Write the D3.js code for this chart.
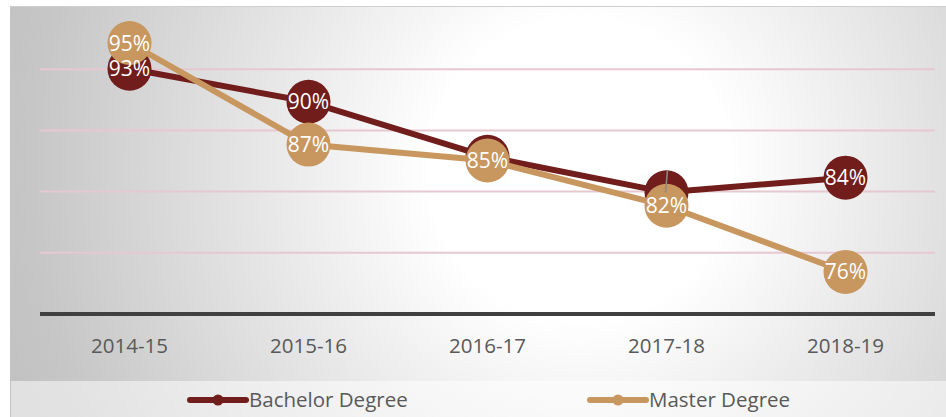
<!DOCTYPE html>
<html>
<head>
<meta charset="utf-8">
<script src="https://cdn.jsdelivr.net/npm/d3@7"></script>
<style>
html,body{margin:0;padding:0;background:#fff;}
svg{display:block;}
</style>
</head>
<body>
<div id="chart"></div>
<script>
// ---- data ----
const categories = ["2014-15", "2015-16", "2016-17", "2017-18", "2018-19"];
const bachelor = [92.9, 90.2, 85.7, 82.8, 84.0];
const master = [95.0, 86.7, 85.4, 81.7, 76.3];
const seriesNames = ["Bachelor Degree", "Master Degree"];
const seriesColors = ["#711d1b", "#c8975f"];

const W = 946, H = 417;
const svg = d3.select("#chart").append("svg").attr("width", W).attr("height", H);

// background
const defs = svg.append("defs");
const rg = defs.append("radialGradient").attr("id", "bg")
  .attr("gradientUnits", "userSpaceOnUse")
  .attr("cx", 580).attr("cy", 170).attr("r", 600);
rg.append("stop").attr("offset", 0).attr("stop-color", "#ffffff");
rg.append("stop").attr("offset", 0.25).attr("stop-color", "#ffffff");
rg.append("stop").attr("offset", 0.92).attr("stop-color", "#c6c6c6");
rg.append("stop").attr("offset", 1).attr("stop-color", "#c2c2c2");

svg.append("rect").attr("x", 10).attr("y", 6).attr("width", W - 10).attr("height", H - 6)
  .attr("fill", "url(#bg)");
svg.append("line").attr("x1", 10).attr("x2", W).attr("y1", 6.5).attr("y2", 6.5)
  .attr("stroke", "#cfcfcf").attr("stroke-width", 1);
svg.append("line").attr("x1", 10.5).attr("x2", 10.5).attr("y1", 6).attr("y2", H)
  .attr("stroke", "#c4c4c4").attr("stroke-width", 1);
// legend band
svg.append("rect").attr("x", 11).attr("y", 381).attr("width", W - 11).attr("height", H - 381)
  .attr("fill", "#ffffff").attr("opacity", 0.5);

// scales
const x = d3.scaleBand().domain(categories).range([40, 935]);
const cx = c => x(c) + x.bandwidth() / 2;
const yMin = 72.86, yStep = 5;
const y = d3.scaleLinear().domain([yMin, yMin + 5 * yStep]).range([314, 8]);

// gridlines
const grid = d3.range(1, 5).map(k => yMin + k * yStep);
svg.append("g").selectAll("line").data(grid).join("line")
  .attr("x1", 40).attr("x2", 935)
  .attr("y1", d => y(d)).attr("y2", d => y(d))
  .attr("stroke", "#e6c8d0").attr("stroke-width", 2);

// x axis
const xAxis = svg.append("g").attr("transform", "translate(0,314)")
  .call(d3.axisBottom(x).tickSize(0).tickPadding(24));
xAxis.select(".domain").attr("stroke", "#404040").attr("stroke-width", 4)
  .attr("d", "M40,0H935");
xAxis.selectAll("text").attr("fill", "#595959")
  .style("font-family", "'Open Sans', sans-serif").style("font-size", "20.5px");

// series
const series = [bachelor, master];
const line = d3.line().x((d, i) => cx(categories[i])).y(d => y(d));
series.forEach((vals, si) => {
  const g = svg.append("g");
  g.append("path").datum(vals).attr("d", line)
    .attr("fill", "none").attr("stroke", seriesColors[si]).attr("stroke-width", 6)
    .attr("stroke-linejoin", "round");
  g.selectAll("circle").data(vals).join("circle")
    .attr("cx", (d, i) => cx(categories[i])).attr("cy", d => y(d))
    .attr("r", 22).attr("fill", seriesColors[si]);
});

// leader line for the hidden 2017-18 bachelor label
svg.append("line")
  .attr("x1", cx(categories[3]) + 1).attr("x2", cx(categories[3]) - 1)
  .attr("y1", y(bachelor[3]) - 22).attr("y2", y(bachelor[3]))
  .attr("stroke", "#8a8a8a").attr("stroke-width", 1.5);

// labels (bachelor 2016-17 and 2017-18 labels are white-on-white / hidden in the source)
const fmt = v => Math.round(v) + "%";
const hidden = {0: [2, 3], 1: []};
series.forEach((vals, si) => {
  svg.append("g").selectAll("text")
    .data(vals.map((v, i) => ({v, i})).filter(d => !hidden[si].includes(d.i)))
    .join("text")
    .attr("x", d => cx(categories[d.i]))
    .attr("y", d => y(d.v))
    .attr("dy", "0.36em")
    .attr("text-anchor", "middle")
    .attr("fill", "#ffffff")
    .style("font-family", "'Open Sans', sans-serif").style("font-size", "21px")
    .text(d => fmt(d.v));
});

// legend
const legendItems = [{x: 190, name: seriesNames[0], color: seriesColors[0]},
                     {x: 590, name: seriesNames[1], color: seriesColors[1]}];
const lg = svg.append("g").selectAll("g").data(legendItems).join("g")
  .attr("transform", d => `translate(${d.x},400)`);
lg.append("line").attr("x1", 0).attr("x2", 56).attr("y1", 0).attr("y2", 0)
  .attr("stroke", d => d.color).attr("stroke-width", 6).attr("stroke-linecap", "round");
lg.append("circle").attr("cx", 28).attr("cy", 0).attr("r", 5.5).attr("fill", d => d.color);
lg.append("text").attr("x", 59).attr("y", 0).attr("dy", "0.36em")
  .attr("fill", "#595959")
  .style("font-family", "'Open Sans', sans-serif").style("font-size", "20.5px")
  .text(d => d.name);
</script>
</body>
</html>
